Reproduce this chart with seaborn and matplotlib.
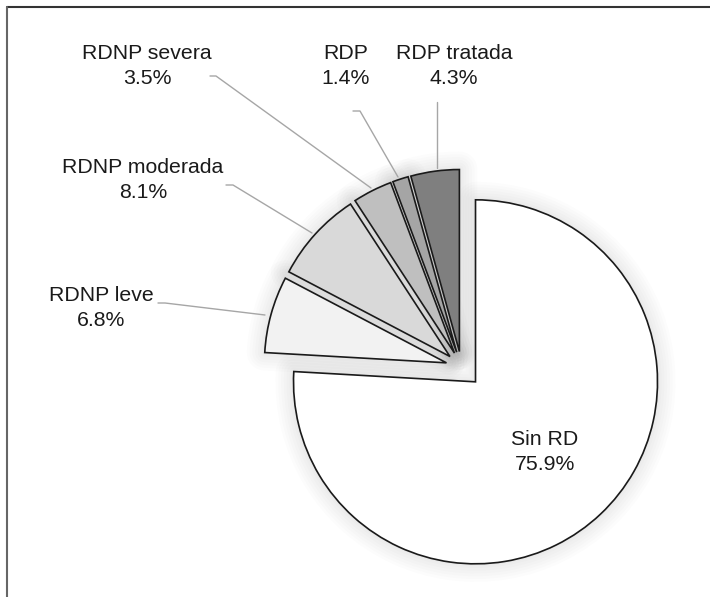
import matplotlib
matplotlib.use("Agg")
import matplotlib.pyplot as plt
import seaborn as sns

# data
categorias = ["Sin RD", "RDNP leve", "RDNP moderada", "RDNP severa", "RDP", "RDP tratada"]
porcentajes = [75.9, 6.8, 8.1, 3.5, 1.4, 4.3]
colores = ["#ffffff", "#f2f2f2", "#d9d9d9", "#bfbfbf", "#a5a5a5", "#7f7f7f"]

sns.set_theme(style="white")
plt.rcParams['font.family'] = ['Liberation Sans', 'DejaVu Sans']

W, H = 710, 597
fig = plt.figure(figsize=(W / 100, H / 100), dpi=100)
ax = fig.add_axes([0, 0, 1, 1])

centro = (461.5, H - 367)
radio = 182
# explode is in data units (pixels here)
explode = [20.4, 15.6, 15.6, 15.6, 15.6, 15.6]

# soft shadow: same pie drawn many times with wide translucent edges underneath
for lw in [26, 22, 18, 14, 10, 6, 3]:
    ax.pie(porcentajes, radius=radio, center=centro, startangle=90,
           counterclock=False, explode=explode, colors=["#000000"] * 6,
           wedgeprops=dict(edgecolor="#000000", linewidth=lw, alpha=0.011,
                           joinstyle="round"))

ax.pie(porcentajes, radius=radio, center=centro, startangle=90,
       counterclock=False, explode=explode, colors=colores,
       wedgeprops=dict(edgecolor="#1a1a1a", linewidth=1.2, joinstyle="miter"))

# labels (x, y in pixels from top-left)
pos_etiquetas = {
    "Sin RD": (545, 452),
    "RDNP leve": (101, 308),
    "RDNP moderada": (143, 180),
    "RDNP severa": (147, 66),
    "RDP": (346, 66),
    "RDP tratada": (454, 66),
}
for cat, pct in zip(categorias, porcentajes):
    x, y = pos_etiquetas[cat]
    ax.text(x, H - y, f"{cat}\n{pct:.1f}%", ha="center", va="center",
            fontsize=15.3, color="#1a1a1a", linespacing=1.4)

# leader lines
guias = [
    [(210, 76), (216, 76), (371, 188)],
    [(353, 111), (360, 111), (398, 177)],
    [(437, 102), (437, 168)],
    [(226, 185), (233, 185), (312, 233)],
    [(158, 303), (165, 303), (265, 315)],
]
for g in guias:
    ax.plot([p[0] for p in g], [H - p[1] for p in g], color="#a6a6a6", lw=1.0)

# outer frame of the original figure
ax.plot([7, W], [H - 7, H - 7], color="#333333", lw=1.5)
ax.plot([7, 7], [0, H - 7], color="#666666", lw=1.5)

ax.set_xlim(0, W)
ax.set_ylim(0, H)
ax.axis("off")

fig.savefig("out.png", dpi=100)
